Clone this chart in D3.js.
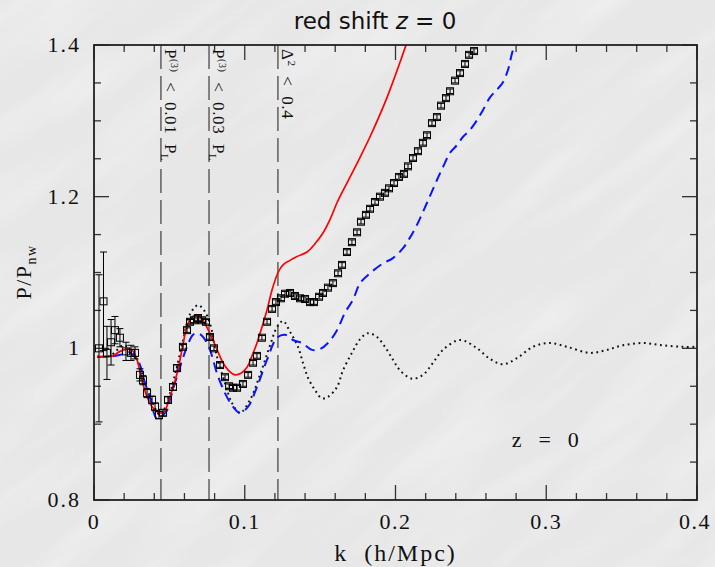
<!DOCTYPE html>
<html>
<head>
<meta charset="utf-8">
<script src="https://cdn.jsdelivr.net/npm/d3@7"></script>
<style>
  html, body { margin: 0; padding: 0; background: #e9e9e9; }
  svg { display: block; }
</style>
</head>
<body>
<svg id="chart" width="715" height="567"></svg>
<script>
// Linear-theory ratio (dotted)
const kLinear = [0.002,0.0106,0.0199,0.0272,0.0338,0.0385,0.0438,0.0478,0.0537,0.059,0.0637,0.069,0.073,0.0769,0.0816,0.0869,0.0915,0.0968,0.1035,0.1101,0.1168,0.1214,0.1254,0.130,0.1353,0.1386,0.142,0.1466,0.1512,0.1552,0.1612,0.1652,0.1711,0.1765,0.1818,0.1877,0.193,0.1983,0.203,0.2109,0.2182,0.2249,0.2315,0.2428,0.2541,0.2627,0.2713,0.2806,0.2912,0.3025,0.3138,0.329,0.3403,0.3509,0.3642,0.3775,0.3907,0.4];
const pLinear = [0.989,0.990,1.004,0.990,0.955,0.930,0.912,0.925,0.965,1.010,1.045,1.057,1.050,1.033,0.989,0.954,0.928,0.915,0.932,0.965,1.004,1.028,1.036,1.022,1.002,0.981,0.961,0.945,0.934,0.936,0.949,0.971,0.994,1.012,1.020,1.015,1.002,0.985,0.971,0.960,0.965,0.981,0.998,1.011,1.000,0.986,0.979,0.987,1.002,1.007,1.002,0.994,0.998,1.004,1.007,1.004,1.002,1.002];

// Standard perturbation theory (red solid)
const kSPT = [0.002,0.0073,0.0126,0.0172,0.0219,0.0252,0.0285,0.0318,0.0352,0.0385,0.0431,0.0464,0.0504,0.0551,0.0584,0.0624,0.067,0.0703,0.0743,0.0789,0.0823,0.0856,0.0896,0.0935,0.0975,0.1015,0.1048,0.1081,0.1114,0.1148,0.1181,0.1221,0.1254,0.130,0.1347,0.1413,0.1466,0.1519,0.1566,0.1612,0.1678,0.1745,0.1831,0.1944,0.207];
const pSPT = [0.989,0.989,0.990,0.996,0.999,0.998,0.985,0.958,0.936,0.923,0.915,0.916,0.936,0.967,0.998,1.033,1.044,1.042,1.030,1.011,0.995,0.981,0.970,0.965,0.967,0.975,0.990,1.007,1.028,1.051,1.077,1.100,1.110,1.116,1.121,1.127,1.138,1.152,1.170,1.192,1.218,1.244,1.279,1.331,1.400];

// Resummed theory (blue dashed)
const kRPT = [0.002,0.0106,0.0186,0.0232,0.0272,0.0299,0.0338,0.0371,0.0418,0.0458,0.0484,0.0504,0.0557,0.0617,0.0657,0.069,0.0723,0.0769,0.0816,0.0869,0.0922,0.0968,0.1022,0.1081,0.1148,0.1214,0.1267,0.132,0.138,0.1446,0.1499,0.1552,0.1612,0.1665,0.1718,0.1765,0.1831,0.1917,0.1983,0.205,0.2096,0.2143,0.2209,0.2275,0.2315,0.2362,0.2408,0.2448,0.2494,0.2541,0.258,0.2627,0.2673,0.2713,0.2746,0.2779,0.2806];
const pRPT = [0.989,0.989,0.992,0.995,0.988,0.981,0.955,0.935,0.907,0.912,0.918,0.932,0.967,1.002,1.018,1.020,1.015,0.998,0.967,0.941,0.923,0.915,0.923,0.949,0.985,1.014,1.018,1.011,1.007,0.998,0.999,1.007,1.024,1.047,1.064,1.086,1.099,1.112,1.119,1.132,1.146,1.163,1.192,1.222,1.239,1.258,1.268,1.279,1.288,1.301,1.314,1.331,1.341,1.351,1.367,1.393,1.403];

// N-body measurements (squares with error bars)
const kNbody = [0.0033,0.0063,0.0086,0.0113,0.0139,0.0172,0.0212,0.0245,0.0272,0.0305,0.0325,0.0352,0.0385,0.0405,0.0431,0.0458,0.0491,0.0524,0.0551,0.059,0.0617,0.0637,0.0663,0.069,0.0716,0.0743,0.0769,0.0796,0.0836,0.0869,0.0896,0.0922,0.0949,0.0988,0.1022,0.1055,0.1081,0.1114,0.1148,0.1181,0.1207,0.124,0.1267,0.130,0.1333,0.1367,0.140,0.1433,0.1459,0.1493,0.1519,0.1552,0.1585,0.1619,0.1645,0.1678,0.1711,0.1745,0.1771,0.1804,0.1831,0.1864,0.1897,0.193,0.1957,0.199,0.2023,0.2056,0.2083,0.2116,0.2149,0.2182,0.2209,0.2242,0.2275,0.2302,0.2335,0.2362,0.2395,0.2428,0.2461,0.2488,0.2521];
const pNbody = [1.000,1.062,0.994,1.008,1.024,1.014,0.996,0.994,0.994,0.965,0.958,0.941,0.932,0.923,0.912,0.915,0.932,0.949,0.974,1.002,1.024,1.035,1.037,1.040,1.037,1.035,1.015,1.000,0.978,0.962,0.950,0.948,0.948,0.953,0.965,0.981,0.990,1.014,1.035,1.052,1.061,1.066,1.072,1.073,1.069,1.066,1.065,1.061,1.061,1.068,1.073,1.080,1.086,1.099,1.110,1.127,1.140,1.153,1.167,1.176,1.184,1.193,1.200,1.205,1.211,1.218,1.226,1.230,1.240,1.251,1.260,1.271,1.281,1.297,1.305,1.320,1.330,1.339,1.353,1.363,1.375,1.387,1.392];
const eNbody = [0.097,0.065,0.035,0.030,0.018,0.012,0.012,0.010,0.008,0.008,0.006,0.006,0.005,0.005,0.005,0.004,0.004,0.004,0.004,0.003,0.003,0.003,0.003,0.003,0.003,0.003,0.003,0.003,0.003,0.003,0.003,0.003,0.003,0.003,0.003,0.003,0.003,0.003,0.003,0.003,0.003,0.003,0.003,0.003,0.003,0.003,0.003,0.003,0.003,0.003,0.003,0.003,0.003,0.003,0.003,0.003,0.003,0.003,0.003,0.003,0.003,0.003,0.003,0.003,0.003,0.003,0.003,0.003,0.003,0.003,0.003,0.003,0.003,0.003,0.003,0.003,0.003,0.003,0.003,0.003,0.003,0.003,0.003];

// Validity limits (vertical dashed lines)
const kLimits = [0.0444, 0.0763, 0.122];

const xTickValues = [0, 0.1, 0.2, 0.3, 0.4];
const xTickLabels = ["0", "0.1", "0.2", "0.3", "0.4"];
const yTickValues = [0.8, 1.0, 1.2, 1.4];
const yTickLabels = ["0.8", "1", "1.2", "1.4"];

const W = 715, H = 567;
const margin = { top: 45, right: 18, bottom: 67, left: 94 };
const iw = W - margin.left - margin.right;
const ih = H - margin.top - margin.bottom;

const svg = d3.select("#chart");
const defs = svg.append("defs");

// Paper-like textured background
const tex = defs.append("filter").attr("id", "tex")
  .attr("x", 0).attr("y", 0).attr("width", "100%").attr("height", "100%");
tex.append("feTurbulence").attr("type", "fractalNoise")
  .attr("baseFrequency", "0.005 0.03").attr("numOctaves", 3).attr("seed", 7);
tex.append("feColorMatrix").attr("type", "matrix")
  .attr("values", "0 0 0 0 1  0 0 0 0 1  0 0 0 0 1  0 0 0 0.7 -0.3");

svg.append("rect").attr("width", W).attr("height", H).attr("fill", "#e7e7e7");
svg.append("g").attr("transform", "rotate(-38 357 283)")
  .append("rect").attr("x", -400).attr("y", -400).attr("width", 1500).attr("height", 1400)
  .attr("filter", "url(#tex)");

defs.append("clipPath").attr("id", "plotclip")
  .append("rect").attr("width", iw).attr("height", ih);

const g = svg.append("g").attr("transform", `translate(${margin.left},${margin.top})`);

const x = d3.scaleLinear().domain([0, 0.4]).range([0, iw]);
const y = d3.scaleLinear().domain([0.8, 1.4]).range([ih, 0]);

// Ticks on all four sides, pointing inward
const tickColor = "#333";
const xMinor = d3.range(0.02, 0.4, 0.02).filter(v => Math.abs(v * 10 - Math.round(v * 10)) > 1e-6);
const yMinor = d3.range(0.85, 1.4, 0.05).filter(v => Math.abs(v * 5 - Math.round(v * 5)) > 1e-6);
const ticks = g.append("g").attr("stroke", tickColor).attr("stroke-width", 1.3);
function xtickSet(vals, len) {
  vals.forEach(v => {
    const px = x(v);
    ticks.append("line").attr("x1", px).attr("x2", px).attr("y1", ih).attr("y2", ih - len);
    ticks.append("line").attr("x1", px).attr("x2", px).attr("y1", 0).attr("y2", len);
  });
}
function ytickSet(vals, len) {
  vals.forEach(v => {
    const py = y(v);
    ticks.append("line").attr("x1", 0).attr("x2", len).attr("y1", py).attr("y2", py);
    ticks.append("line").attr("x1", iw).attr("x2", iw - len).attr("y1", py).attr("y2", py);
  });
}
xtickSet(xTickValues, 15); xtickSet(xMinor, 7);
ytickSet(yTickValues, 15); ytickSet(yMinor, 7);

// Tick labels
const serif = "'Liberation Serif', 'DejaVu Serif', serif";
g.append("g").selectAll("text").data(xTickValues).join("text")
  .attr("x", (d, i) => x(d) - (i === xTickValues.length - 1 ? 2 : 0)).attr("y", ih + 29)
  .attr("text-anchor", "middle").attr("font-family", serif).attr("font-size", 22)
  .attr("letter-spacing", 1.5).attr("fill", "#111").text((d, i) => xTickLabels[i]);
g.append("g").selectAll("text").data(yTickValues).join("text")
  .attr("x", -13).attr("y", d => y(d) + 7)
  .attr("text-anchor", "end").attr("font-family", serif).attr("font-size", 22)
  .attr("letter-spacing", 2).attr("fill", "#111").text((d, i) => yTickLabels[i]);

// Vertical dashed limit lines
g.append("g").selectAll("line").data(kLimits).join("line")
  .attr("x1", d => x(d)).attr("x2", d => x(d)).attr("y1", 0).attr("y2", ih)
  .attr("stroke", "#555").attr("stroke-width", 1.4).attr("stroke-dasharray", "24,7");

// Limit labels, rotated to read downward
function limitLabel(k, parts) {
  const t = g.append("text")
    .attr("transform", `translate(${x(k) + 4},4) rotate(90)`)
    .attr("font-family", serif).attr("font-size", 17).attr("fill", "#111")
    .attr("letter-spacing", 0.6).attr("xml:space", "preserve");
  parts.forEach(p => {
    const s = t.append("tspan").text(p.t);
    if (p.dy) s.attr("dy", p.dy);
    if (p.fs) s.attr("font-size", p.fs);
  });
}
limitLabel(kLimits[0], [{t: "P"}, {t: "(3)", fs: 10, dy: -6}, {t: "  <  0.01  P", dy: 6}, {t: "L", fs: 11, dy: 4}]);
limitLabel(kLimits[1], [{t: "P"}, {t: "(3)", fs: 10, dy: -6}, {t: "  <  0.03  P", dy: 6}, {t: "L", fs: 11, dy: 4}]);
limitLabel(kLimits[2], [{t: "Δ"}, {t: "2", fs: 11, dy: -6}, {t: "  <  0.4", dy: 6}]);

const plot = g.append("g").attr("clip-path", "url(#plotclip)");

const line = d3.line().x(d => x(d[0])).y(d => y(d[1])).curve(d3.curveCatmullRom.alpha(0.5));

// Linear theory (dotted black)
plot.append("path").datum(d3.zip(kLinear, pLinear)).attr("d", line)
  .attr("fill", "none").attr("stroke", "#111").attr("stroke-width", 2)
  .attr("stroke-dasharray", "1.8,3.6");

// Resummed (blue dashed)
plot.append("path").datum(d3.zip(kRPT, pRPT)).attr("d", line)
  .attr("fill", "none").attr("stroke", "#0a14ff").attr("stroke-width", 2)
  .attr("stroke-dasharray", "10,6");

// SPT (red solid)
plot.append("path").datum(d3.zip(kSPT, pSPT)).attr("d", line)
  .attr("fill", "none").attr("stroke", "#ff0000").attr("stroke-width", 1.7);

// N-body points
const nb = plot.append("g").attr("stroke", "#000").attr("stroke-width", 1).attr("fill", "none");
const half = 3.5, cap = 3.5;
kNbody.forEach((k, i) => {
  const px = x(k), py = y(pNbody[i]);
  const top = y(pNbody[i] + eNbody[i]), bot = y(pNbody[i] - eNbody[i]);
  nb.append("rect").attr("x", px - half).attr("y", py - half).attr("width", 2 * half).attr("height", 2 * half);
  nb.append("line").attr("x1", px).attr("x2", px).attr("y1", top).attr("y2", bot);
  nb.append("line").attr("x1", px - cap).attr("x2", px + cap).attr("y1", top).attr("y2", top);
  nb.append("line").attr("x1", px - cap).attr("x2", px + cap).attr("y1", bot).attr("y2", bot);
});

// Frame
g.append("rect").attr("width", iw).attr("height", ih)
  .attr("fill", "none").attr("stroke", "#222").attr("stroke-width", 1.8);

// Annotation
g.append("text").attr("x", x(0.3)).attr("y", y(0.87)).attr("text-anchor", "middle")
  .attr("font-family", serif).attr("font-size", 22).attr("fill", "#111")
  .attr("letter-spacing", 2).attr("xml:space", "preserve").text("z  =  0");

// Axis titles
svg.append("text").attr("x", margin.left + iw / 2).attr("y", 561).attr("text-anchor", "middle")
  .attr("font-family", serif).attr("font-size", 24).attr("fill", "#111")
  .attr("letter-spacing", 2).attr("xml:space", "preserve").text("k  (h/Mpc)");

const yl = svg.append("text").attr("transform", "translate(31,272) rotate(-90)")
  .attr("text-anchor", "middle").attr("font-family", serif).attr("font-size", 22)
  .attr("letter-spacing", 1.5).attr("fill", "#111");
yl.append("tspan").text("P/P");
yl.append("tspan").attr("font-size", 14).attr("dy", 5).text("nw");

// Title
const sans = "'DejaVu Sans', 'Liberation Sans', sans-serif";
const title = svg.append("text").attr("x", 375).attr("y", 29).attr("text-anchor", "middle")
  .attr("font-family", sans).attr("font-size", 23).attr("fill", "#111");
title.append("tspan").text("red shift ");
title.append("tspan").attr("font-style", "italic").text("z");
title.append("tspan").text(" = 0");
</script>
</body>
</html>
